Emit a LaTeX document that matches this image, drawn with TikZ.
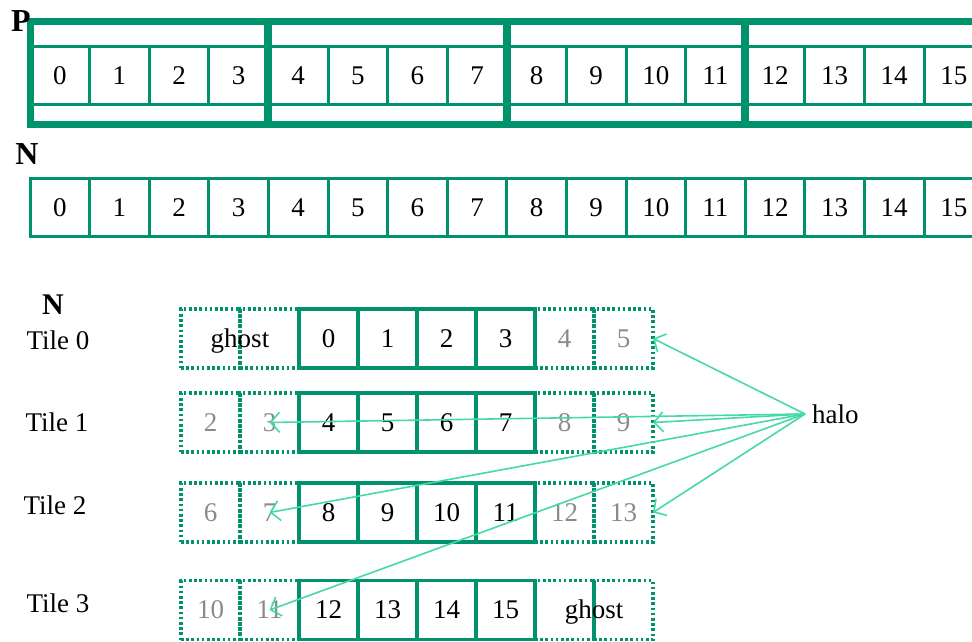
\documentclass[tikz,border=0pt]{standalone}
\usepackage{fontspec}
\setmainfont{Liberation Serif}
\usetikzlibrary{arrows.meta}
\definecolor{boxgreen}{HTML}{00926C}
\definecolor{halogreen}{HTML}{45D9A6}
\definecolor{ghostgrey}{HTML}{8A8A8A}
\newcommand{\Cw}{59.6}
\newcommand{\Tw}{59}
\newcommand{\Rx}{30}
\newcommand{\Tx}{181}

\begin{document}
\begin{tikzpicture}[x=0.5pt, y=-0.5pt, font=\fontsize{13.5}{16}\selectfont,
    cell/.style={draw=boxgreen, line width=1.5pt, minimum width=29.8pt, minimum height=29pt, inner sep=0pt, outer sep=0pt},
    tcell/.style={draw=boxgreen, line width=1.8pt, minimum width=29.5pt, minimum height=29.5pt, inner sep=0pt, outer sep=0pt},
    gcell/.style={tcell, text=ghostgrey, line width=1.8pt, dash pattern=on 1.3pt off 1.3pt},
    halo arrow/.style={halogreen, line width=0.8pt, -{Straight Barb[length=4.5pt, width=10pt]}},
    title/.style={font=\fontsize{16}{18}\selectfont\bfseries},
  ]
\useasboundingbox (0,0) rectangle (972,641);

% --- P: sixteen cells, four blocks of four ------------------------------------------
\foreach \i in {0,...,15}
  \node[cell] (p\i) at ({\Rx+(\i+0.5)*\Cw},76) {\i};
\draw[boxgreen, line width=3.5pt] (\Rx,22) rectangle (\Rx+16*\Cw,124.5);
\foreach \i in {4,8,12}
  \draw[boxgreen, line width=4pt] (\Rx+\i*\Cw,22) -- (\Rx+\i*\Cw,124.5);
\node[title] (plabel) at (21,21) {P};

% --- N: the same sixteen cells, one row -----------------------------------------------
\foreach \i in {0,...,15}
  \node[cell] (n\i) at ({\Rx+(\i+0.5)*\Cw},208) {\i};
\node[title] (nlabel) at (27,154) {N};

% --- The tiles: four solid cells, two ghost cells on either side -----------------------
\node[title, font=\fontsize{15}{18}\selectfont\bfseries] (ntile) at (53,305) {N};
\foreach \r/\yc in {0/338.5, 1/422.5, 2/512.5, 3/610} {
  \foreach \k in {1,2,7,8} {
    \pgfmathtruncatemacro{\v}{4*\r+\k-3}
    \node[gcell] (t\r-\k) at ({\Tx+(\k-0.5)*\Tw},\yc) {\ifnum\v<0 \else\ifnum\v>15 \else\v\fi\fi};
  }
  \foreach \k in {3,...,6} {
    \pgfmathtruncatemacro{\v}{4*\r+\k-3}
    \node[tcell] (t\r-\k) at ({\Tx+(\k-0.5)*\Tw},\yc) {\v};
  }
}
\foreach \r/\yc/\xc in {0/340/58, 1/422/57, 2/505/55, 3/603/58}
  \node (tile\r) at (\xc,\yc) {Tile \r};
\node[anchor=base] (ghost0) at (t0-1.east |- t0-3.base) {ghost};
\draw[boxgreen, line width=1.8pt] (t3-7.north east) -- (t3-7.south east);
\node[anchor=base] (ghost3) at (t3-7.east |- t3-3.base) {ghost};

% --- halo --------------------------------------------------------------------------------
\node[anchor=west] (halo) at (805,414) {halo};
\draw[halo arrow] (halo.west) -- (t0-8.east);
\draw[halo arrow] (halo.west) -- (t1-8.east);
\draw[halo arrow] (halo.west) -- (t1-2.center);
\draw[halo arrow] (halo.west) -- (t2-2.center);
\draw[halo arrow] (halo.west) -- (t2-8.east);
\draw[halo arrow] (halo.west) -- (t3-2.center);
\end{tikzpicture}
\end{document}
